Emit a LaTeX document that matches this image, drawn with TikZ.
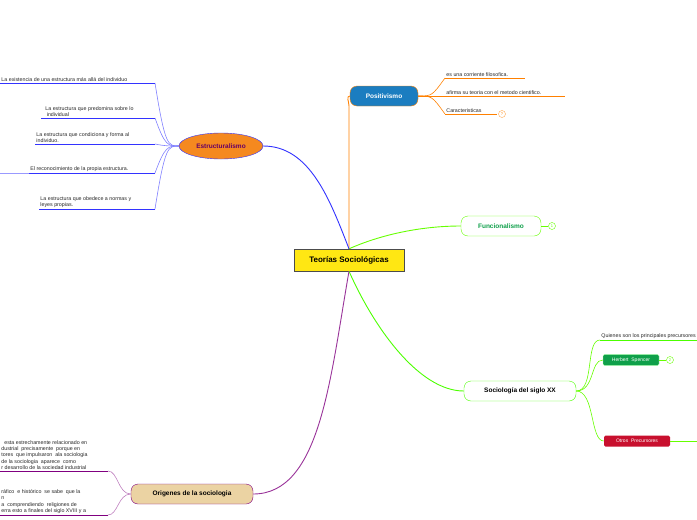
\documentclass[tikz,border=0pt]{standalone}
\usepackage{fontspec}
\setmainfont{Liberation Sans}
\usetikzlibrary{positioning,shapes.geometric}
\definecolor{posblue}{HTML}{1B7DC0}
\definecolor{estorange}{HTML}{F5891F}
\definecolor{spgreen}{HTML}{0FA04A}
\definecolor{otred}{HTML}{C8102E}
\definecolor{origtan}{HTML}{EBD3A3}
\definecolor{rootyellow}{HTML}{FFE713}
\begin{document}
\begin{tikzpicture}[x=1pt,y=-1pt,
    topic/.style={rectangle, rounded corners=7pt, minimum height=20pt, font=\fontsize{6.5}{7}\selectfont\bfseries},
    leaf/.style={anchor=south west, inner sep=1pt, text=black!85, font=\fontsize{5.3}{6.3}\selectfont, align=left},
    tag/.style={rectangle, rounded corners=1.5pt, minimum height=11pt, text=white, font=\fontsize{5}{6}\selectfont},
    badge/.style={circle, draw, inner sep=0pt, minimum size=7pt, font=\fontsize{4}{4}\selectfont},
    branch/.style={line width=0.9pt},
    twig/.style={line width=0.6pt}
  ]
  \useasboundingbox (0,0) rectangle (697,520);
  \clip (0,0) rectangle (697,520);

  \node[draw=black!70, fill=rootyellow, minimum width=110pt, minimum height=22pt, font=\fontsize{8}{9}\selectfont\bfseries] (root) at (349,260) {Teorías Sociológicas};

  % Positivismo
  \node[topic, fill=posblue, draw=orange, text=white, minimum width=68pt] (pos) at (384,96) {Positivismo};
  \draw[orange, branch] (root.north) -- (349,106) to[out=90,in=180] (pos.west);
  \coordinate (p1) at (445,78);
  \coordinate (p2) at (445,96);
  \coordinate (p3) at (445,114);
  \foreach \c in {p1,p2,p3}
    \draw[orange, twig] (pos.east) .. controls (432,96) and (432,96) .. (\c);
  \draw[orange, branch] (p1) -- ++(80,0) node[leaf, pos=0] {es una corriente filosofica.};
  \draw[orange, branch] (p2) -- ++(120,0) node[leaf, pos=0] {afirma su teoria con el metodo cientifico.};
  \draw[orange, branch] (p3) -- ++(52,0) node[leaf, pos=0] {Caracteristicas};
  \node[badge, draw=orange!70, text=orange] (pb) at (502,114) {?};

  % Funcionalismo
  \node[topic, draw=green!60!yellow, fill=white, text=spgreen, minimum width=80pt] (fun) at (501,226) {Funcionalismo};
  \draw[green!60!yellow, branch] (root.north) .. controls (380,235) and (420,226) .. (fun.west);
  \node[badge, draw=green!60!yellow, text=green!60!yellow] (fb) at (552,226) {1};
  \draw[green!60!yellow] (fun.east) -- (fb);

  % Sociologia del siglo XX
  \node[topic, draw=green!70!yellow, fill=white, text=black, minimum width=112pt] (sxx) at (520,391) {Sociología del siglo XX};
  \draw[green!70!yellow, branch] (root.south) .. controls (375,330) and (420,391) .. (sxx.west);
  \coordinate (s1) at (600,340);
  \node[tag, fill=spgreen, draw=green!30, minimum width=56pt] (spen) at (631,360) {Herbert\ \ Spencer};
  \node[tag, fill=otred, minimum width=66pt] (otros) at (637,441) {Otros\ \ Precursores};
  \draw[green!60!yellow, twig] (sxx.east) .. controls (595,391) and (585,340) .. (s1);
  \draw[green!60!yellow, twig] (sxx.east) .. controls (595,391) and (590,360) .. (spen.west);
  \draw[green!60!yellow, twig] (sxx.east) .. controls (595,391) and (590,441) .. (otros.west);
  \draw[green!70!yellow, branch] (s1) -- ++(97,0) node[leaf, pos=0] {Quienes son los principales precursores};
  \node[badge, draw=green!60!yellow, text=green!60!yellow] (sb) at (670,360) {2};
  \draw[green!60!yellow] (spen.east) -- (sb);
  \draw[green!60!yellow, branch] (otros.east) -- (697,441);

  % Estructuralismo
  \node[ellipse, draw=blue!80, fill=estorange, text=violet!80!black, minimum width=84pt, minimum height=26pt, font=\fontsize{6.5}{7}\selectfont\bfseries] (est) at (221,146) {Estructuralismo};
  \draw[blue!80, branch] (root.north) .. controls (330,200) and (310,146) .. (est.east);
  \coordinate (e1) at (155,83);
  \coordinate (e2) at (155,118);
  \coordinate (e3) at (155,144);
  \coordinate (e4) at (155,173);
  \coordinate (e5) at (155,209);
  \foreach \c in {e1,e2,e3,e4,e5}
    \draw[blue!50, twig] (est.west) .. controls (168,146) and (165,146) .. (\c);
  \draw[blue!80, branch] (e1) -- (0,83) node[leaf, pos=1] {La existencia de una estructura más allá del individuo};
  \draw[blue!80, branch] (e2) -- (41,118) node[leaf, pos=1] {\ \ La estructura que predomina sobre lo\\ \ \ \ individual};
  \draw[blue!80, branch] (e3) -- (35,144) node[leaf, pos=1] {La estructura que condiciona y forma al\\individuo.};
  \draw[blue!80, branch] (e4) -- (29,173) node[leaf, pos=1] {El reconocimiento de la propia estructura.};
  \draw[blue!40, twig] (29,173) -- (0,173);
  \draw[blue!80, branch] (e5) -- (39,209) node[leaf, pos=1] {La estructura que obedece a normas y\\leyes propias.};

  % Origenes de la sociologia
  \node[topic, draw=violet, fill=origtan, text=black, minimum width=122pt] (ori) at (192,494) {Origenes de la sociologia};
  \draw[violet!80, branch] (root.south) .. controls (330,380) and (320,494) .. (ori.east);
  \coordinate (o1) at (108,471);
  \coordinate (o2) at (108,515);
  \draw[violet!50, twig] (ori.west) .. controls (118,494) and (118,471) .. (o1);
  \draw[violet!50, twig] (ori.west) .. controls (118,494) and (118,515) .. (o2);
  \draw[violet, branch] (o1) -- (0,471) node[leaf, pos=1] {\ \ esta estrechamente relacionado en\\dustrial\ \ precisamente\ \ porque en\\tores\ \ que impulsaron\ \ ala sociologia\\de la sociologia\ \ aparece\ \ como\\r desarrollo de la sociedad industrial};
  \draw[violet, branch] (o2) -- (0,515) node[leaf, pos=1] {ráfico\ \ e histórico\ \ se sabe\ \ que la\\n\\a\ \ comprendiendo\ \ religiones de\\erra esto a finales del siglo XVIII y a};
\end{tikzpicture}
\end{document}
